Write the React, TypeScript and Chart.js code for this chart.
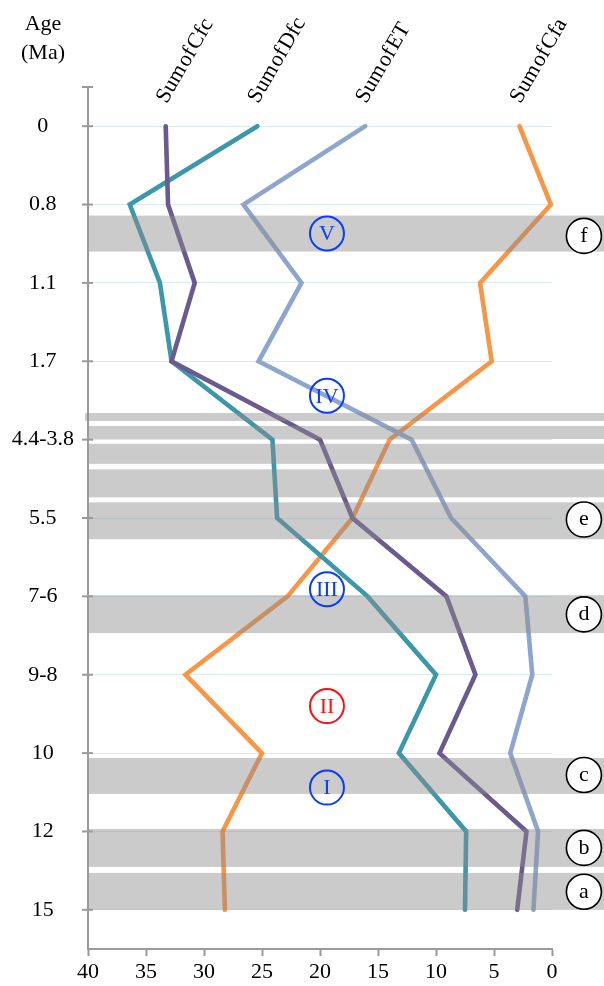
import React, { useEffect, useRef } from 'react';
import { Chart, registerables } from 'chart.js';

Chart.register(...registerables);

// ---- data ----
const categories = ['0', '0.8', '1.1', '1.7', '4.4-3.8', '5.5', '7-6', '9-8', '10', '12', '15'];
const seriesNames = ['Sum of Cfc', 'Sum of Dfc', 'Sum of ET', 'Sum of Cfa'];
const cfc = [33.3, 33.1, 30.8, 32.8, 20.0, 17.2, 9.1, 6.6, 9.7, 2.2, 3.0];
const dfc = [25.4, 36.4, 33.8, 32.8, 24.1, 23.7, 15.9, 10.0, 13.2, 7.4, 7.5];
const et = [16.1, 26.6, 21.6, 25.3, 12.1, 8.7, 2.3, 1.7, 3.6, 1.2, 1.6];
const cfa = [2.8, 0.1, 6.2, 5.2, 14.0, 17.2, 22.8, 31.6, 25.0, 28.4, 28.2];
const seriesColors = ['#6a5a8e', '#3b97a9', '#8ea6cd', '#f79646'];
const xMin = 0;
const xMax = 40;
const xStep = 5;

// grey bands, in category-index units
const bandStarts = [1.141, 3.66, 3.826, 4.053, 4.379, 4.8, 5.985, 8.062, 8.968, 9.529];
const bandEnds = [1.6, 3.762, 3.992, 4.309, 4.736, 5.271, 6.469, 8.521, 9.452, 10.0];

// circled zone labels
const romanLabels = ['V', 'IV', 'III', 'II', 'I'];
const romanY = [1.37, 3.44, 5.91, 7.4, 8.44];
const romanX = 19.4;
const romanColors = ['#0a3cff', '#0a3cff', '#0a3cff', '#ff1010', '#0a3cff'];
const letterLabels = ['f', 'e', 'd', 'c', 'b', 'a'];
const letterY = [1.4, 5.02, 6.23, 8.28, 9.21, 9.77];
const letterX = -2.75;

const FONT = '"Liberation Serif", "Times New Roman", serif';

const overlayPlugin = {
  id: 'overlay',
  afterDatasetsDraw(chart: any) {
    const { ctx, chartArea, scales } = chart;
    const xs = scales.x;
    const ys = scales.y;
    const W = chart.width;
    ctx.save();
    // bands
    ctx.fillStyle = 'rgba(140,140,140,0.45)';
    for (let i = 0; i < bandStarts.length; i++) {
      const y1 = ys.getPixelForValue(bandStarts[i]);
      const y2 = ys.getPixelForValue(bandEnds[i]);
      const x0 = i === 1 ? chartArea.left - 3 : chartArea.left + 1;
      ctx.fillRect(x0, y1, W - x0, y2 - y1);
    }
    // roman circles
    ctx.font = `22px ${FONT}`;
    ctx.textAlign = 'center';
    ctx.textBaseline = 'middle';
    for (let i = 0; i < romanLabels.length; i++) {
      const cx = xs.getPixelForValue(romanX);
      const cy = ys.getPixelForValue(romanY[i]);
      ctx.beginPath();
      ctx.arc(cx, cy, 17, 0, Math.PI * 2);
      ctx.lineWidth = 2;
      ctx.strokeStyle = romanColors[i];
      ctx.stroke();
      ctx.fillStyle = romanColors[i];
      ctx.fillText(romanLabels[i], cx, cy + 1);
    }
    // letter circles
    for (let i = 0; i < letterLabels.length; i++) {
      const cx = xs.getPixelForValue(letterX);
      const cy = ys.getPixelForValue(letterY[i]);
      ctx.beginPath();
      ctx.arc(cx, cy, 17.5, 0, Math.PI * 2);
      ctx.fillStyle = '#ffffff';
      ctx.fill();
      ctx.lineWidth = 1.6;
      ctx.strokeStyle = '#000000';
      ctx.stroke();
      ctx.fillStyle = '#000000';
      ctx.fillText(letterLabels[i], cx, cy);
    }
    ctx.restore();
  },
  afterDraw(chart: any) {
    const { ctx, chartArea, scales } = chart;
    const ys = scales.y;
    ctx.save();
    // y tick marks crossing the axis
    ctx.strokeStyle = '#9a9a9a';
    ctx.lineWidth = 2;
    const tickYs = [chartArea.top, ...categories.map((_, i) => ys.getPixelForValue(i))];
    for (const ty of tickYs) {
      ctx.beginPath();
      ctx.moveTo(chartArea.left - 6, ty);
      ctx.lineTo(chartArea.left + 5, ty);
      ctx.stroke();
    }
    // axis title
    ctx.fillStyle = '#000000';
    ctx.font = `22px ${FONT}`;
    ctx.textAlign = 'center';
    ctx.textBaseline = 'middle';
    ctx.fillText('Age', 43, 24);
    ctx.fillText('(Ma)', 43, 53);
    // series labels, rotated, at the first point of each line
    chart.data.datasets.forEach((ds: any, i: number) => {
      const meta = chart.getDatasetMeta(i);
      const p = meta.data[0];
      if (!p) return;
      ctx.save();
      ctx.translate(p.x + 1, p.y - 22);
      ctx.rotate(-Math.PI / 3);
      ctx.textAlign = 'left';
      ctx.textBaseline = 'alphabetic';
      ctx.fillStyle = '#000000';
      ctx.font = `22px ${FONT}`;
      try {
        (ctx as any).wordSpacing = '-4px';
      } catch (e) {
        /* ignore */
      }
      ctx.fillText(seriesNames[i], 0, 0);
      ctx.restore();
    });
    ctx.restore();
  },
};

export default function App() {
  const canvasRef = useRef<HTMLCanvasElement | null>(null);

  useEffect(() => {
    if (!canvasRef.current) return;
    const seriesData = [cfc, dfc, et, cfa];
    const chart = new Chart(canvasRef.current, {
      type: 'line',
      data: {
        labels: categories,
        datasets: seriesData.map((d, i) => ({
          label: seriesNames[i],
          data: d,
          borderColor: seriesColors[i],
          backgroundColor: seriesColors[i],
          borderWidth: 4.6,
          pointRadius: 0,
          pointHoverRadius: 0,
          tension: 0,
          fill: false,
          clip: false as any,
          borderCapStyle: 'round' as const,
          borderJoinStyle: 'miter' as const,
        })),
      },
      options: {
        indexAxis: 'y',
        animation: false,
        responsive: true,
        maintainAspectRatio: false,
        layout: { padding: { top: 87, right: 52, left: 0, bottom: 0 } },
        plugins: {
          legend: { display: false },
          tooltip: { enabled: false },
          title: { display: false },
        },
        scales: {
          x: {
            type: 'linear',
            position: 'bottom',
            reverse: true,
            min: xMin,
            max: xMax,
            ticks: {
              stepSize: xStep,
              color: '#000000',
              font: { family: FONT, size: 22 },
              padding: 3,
              maxRotation: 0,
            },
            grid: {
              drawOnChartArea: false,
              tickLength: 7,
              tickColor: '#9a9a9a',
              tickWidth: 2,
            },
            border: { color: '#9a9a9a', width: 2 },
            afterFit: (s: any) => {
              s.height = 37;
            },
          },
          y: {
            type: 'category',
            position: 'left',
            offset: true,
            ticks: {
              color: '#000000',
              font: { family: FONT, size: 22 },
              padding: 8,
              crossAlign: 'center',
              autoSkip: false,
            },
            grid: {
              color: '#d8edf3',
              lineWidth: 1,
              tickLength: 6,
              tickColor: 'rgba(0,0,0,0)',
            },
            border: { color: '#9a9a9a', width: 2 },
            afterFit: (s: any) => {
              s.width = 88;
            },
          },
        },
      },
      plugins: [overlayPlugin],
    } as any);
    return () => chart.destroy();
  }, []);

  return (
    <div style={{ position: 'absolute', left: 0, top: 0, width: 604, height: 986, background: '#ffffff' }}>
      <canvas ref={canvasRef} />
    </div>
  );
}
